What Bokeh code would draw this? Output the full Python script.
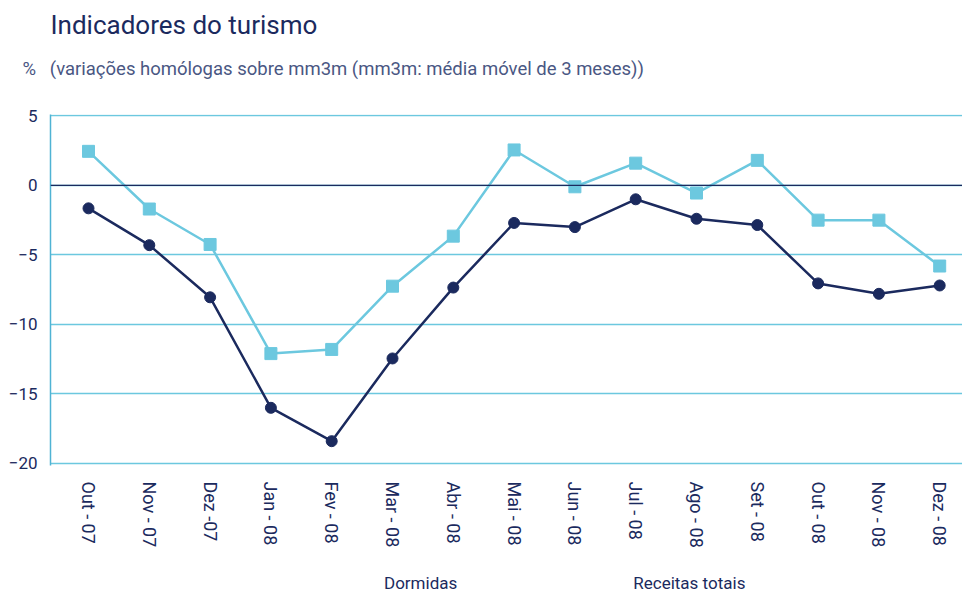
from bokeh.plotting import figure
from bokeh.layouts import column
from bokeh.models import (Range1d, FixedTicker, Span, Legend, LegendItem,
                          ColumnDataSource, Title)
from bokeh.embed import file_html
from bokeh.resources import INLINE

months = ["Out - 07", "Nov - 07", "Dez -07", "Jan - 08", "Fev - 08", "Mar - 08",
          "Abr - 08", "Mai - 08", "Jun - 08", "Jul - 08", "Ago - 08", "Set - 08",
          "Out - 08", "Nov - 08", "Dez - 08"]
dormidas = [-1.65, -4.3, -8.05, -16.0, -18.4, -12.45, -7.35, -2.7, -3.0, -1.0,
            -2.4, -2.85, -7.05, -7.8, -7.2]
receitas = [2.45, -1.7, -4.25, -12.1, -11.8, -7.25, -3.65, 2.55, -0.1, 1.6,
            -0.55, 1.8, -2.5, -2.5, -5.8]
y_ticks = [-20, -15, -10, -5, 0, 5]

NAVY = "#1b2a5e"
LIGHT = "#6cc8df"
LEG_BLUE = "#2a8ec0"
FONT = "Roboto"

idx = list(range(len(months)))
src = ColumnDataSource(dict(x=idx, d=dormidas, r=receitas))

p = figure(width=962, height=567, output_backend="svg", toolbar_location=None,
           x_range=Range1d(-0.625, 14.375), y_range=Range1d(-20.15, 5.1),
           min_border_left=50, min_border_right=0, min_border_top=114,
           min_border_bottom=102)
p.outline_line_color = None

# grid
p.xgrid.grid_line_color = None
p.ygrid.grid_line_color = LIGHT
p.ygrid.grid_line_width = 1.5
p.ygrid.ticker = FixedTicker(ticks=y_ticks)

# y axis
p.yaxis.ticker = FixedTicker(ticks=y_ticks)
p.yaxis.axis_line_color = "#4fb3d4"
p.yaxis.axis_line_width = 1.5
p.yaxis.major_tick_line_color = None
p.yaxis.major_tick_out = 0
p.yaxis.minor_tick_line_color = None
p.yaxis.minor_tick_out = 0
p.yaxis.major_label_text_font = FONT
p.yaxis.major_label_text_font_size = "17px"
p.yaxis.major_label_text_color = NAVY
p.yaxis.major_label_standoff = 13

# x axis
p.xaxis.ticker = FixedTicker(ticks=idx)
p.xaxis.major_label_overrides = {i: m for i, m in zip(idx, months)}
p.xaxis.axis_line_color = None
p.xaxis.major_tick_line_color = None
p.xaxis.major_tick_out = 0
p.xaxis.minor_tick_line_color = None
p.xaxis.minor_tick_out = 0
p.xaxis.major_label_orientation = "vertical"
p.xaxis.major_label_text_font = FONT
p.xaxis.major_label_text_font_size = "18px"
p.xaxis.major_label_text_color = NAVY
p.xaxis.major_label_standoff = 16

# zero line
p.add_layout(Span(location=0, dimension="width", line_color=NAVY, line_width=1.2))

# series
p.line("x", "r", source=src, line_color=LIGHT, line_width=2.5)
p.scatter("x", "r", source=src, marker="square", size=12, fill_color=LIGHT,
          line_color=LIGHT)
p.line("x", "d", source=src, line_color=NAVY, line_width=2.5)
p.scatter("x", "d", source=src, marker="circle", size=11, fill_color=NAVY,
          line_color=NAVY)

# titles (stacked outward from the plot frame)
p.add_layout(Title(text="\u00a0", text_font_size="1px", standoff=22), "above")
p.add_layout(Title(text="%\u00a0\u00a0\u00a0(variações homólogas sobre mm3m (mm3m: média móvel de 3 meses))",
                   text_font=FONT, text_font_size="18.5px", text_font_style="normal",
                   text_color="#4a5783", align="left", offset=-28, standoff=20), "above")
p.add_layout(Title(text="Indicadores do turismo", text_font=FONT,
                   text_font_size="26px", text_font_style="normal",
                   text_color=NAVY, align="left", offset=0, standoff=11), "above")

# legend strip below the chart
p2 = figure(width=962, height=31, output_backend="svg", toolbar_location=None,
            x_axis_location=None, y_axis_location=None,
            x_range=Range1d(0, 1), y_range=Range1d(0, 1),
            min_border_left=0, min_border_right=0, min_border_top=0,
            min_border_bottom=0)
p2.outline_line_color = None
p2.grid.visible = False
empty = ColumnDataSource(dict(x=[], y=[]))
l1 = p2.line("x", "y", source=empty, line_color=NAVY, line_width=3)
m1 = p2.scatter("x", "y", source=empty, marker="circle", size=10,
                fill_color=NAVY, line_color=NAVY)
l2 = p2.line("x", "y", source=empty, line_color=LEG_BLUE, line_width=3)
m2 = p2.scatter("x", "y", source=empty, marker="square", size=10,
                fill_color=LEG_BLUE, line_color=LEG_BLUE)
legend = Legend(items=[LegendItem(label="Dormidas", renderers=[l1, m1]),
                       LegendItem(label="Receitas totais", renderers=[l2, m2])],
                location=(268, 5), orientation="horizontal",
                glyph_width=60, glyph_height=20, label_standoff=6, spacing=110,
                padding=0, margin=0, border_line_color=None,
                background_fill_alpha=0,
                label_text_font=FONT, label_text_font_size="17px",
                label_text_color=NAVY)
p2.add_layout(legend, "center")

layout = column(p, p2, spacing=0)
open("out.html", "w").write(file_html(layout, INLINE))
